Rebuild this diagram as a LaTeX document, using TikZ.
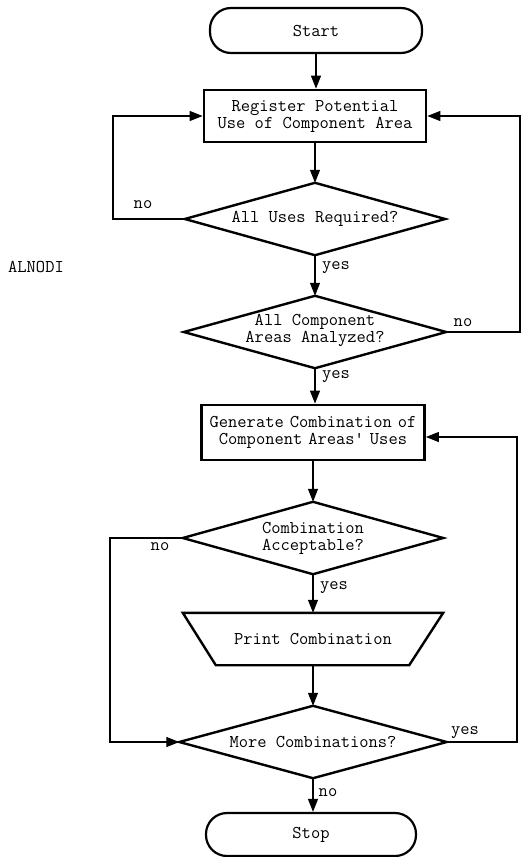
\documentclass[tikz,border=0pt]{standalone}
\usetikzlibrary{arrows.meta}
\begin{document}
\begin{tikzpicture}[x=1pt,y=-1pt,
  font=\ttfamily\fontsize{18}{17}\selectfont,
  term/.style={draw,line width=2.2pt,rounded corners=21pt,minimum height=44pt,inner sep=0pt},
  procbox/.style={draw,line width=2.8pt,inner sep=0pt,align=center},
  dec/.style={inner sep=0pt,align=center},
  decline/.style={line width=2.4pt,line join=miter},
  conn/.style={line width=1.2pt,-{Triangle[length=13pt,width=10pt]}},
  lbl/.style={inner sep=0pt}]
\useasboundingbox (0,0) rectangle (523,857);
% nodes
\node[term, minimum width=212pt, minimum height=45pt] (start) at (316,30.5) {Start};
\node[procbox, minimum width=222pt, minimum height=52pt] (reg) at (315,116) {Register Potential\\Use of Component Area};
\node[dec, minimum width=260pt, minimum height=72pt] (d1) at (315,219) {All Uses Required?};
\node[dec, minimum width=262pt, minimum height=72pt] (d2) at (315,332) {};
\node[dec] (d2t) at (315,330) {All Component\\Areas Analyzed?};
\node[procbox, text width=223pt, minimum height=55pt] (gen) at (313,432.5) {Generate Combination of\\Component Areas' Uses};
\node[dec, minimum width=260pt, minimum height=72pt] (d3) at (313,538) {Combination\\Acceptable?};
\node[dec, minimum width=260pt, minimum height=52pt] (pr) at (313,639) {Print Combination};
\node[dec, minimum width=267pt, minimum height=72pt] (d4) at (313,742) {More Combinations?};
\node[term, minimum width=210pt, minimum height=43pt] (stop) at (311,834.5) {Stop};
\node[lbl] (alnodi) at (36,267) {ALNODI};
% shapes
\foreach \d in {d1,d2,d3,d4}
  \draw[decline] (\d.north) -- (\d.east) -- (\d.south) -- (\d.west) -- cycle;
\draw[decline] (pr.north west) -- (pr.north east) -- ([xshift=-34pt]pr.south east) -- ([xshift=33pt]pr.south west) -- cycle;
% coordinates for loops
\coordinate (L1) at (113,116);
\coordinate (R1) at (520,116);
\coordinate (R2) at (517,437);
\coordinate (L2) at (110,742);
% connectors
\draw[conn] (start.south) -- (start.south |- reg.north);
\draw[conn] (reg.south) -- (reg.south |- d1.north);
\draw[conn] (d1.south) -- (d1.south |- d2.north);
\draw[conn] (d2.south) -- (d2.south |- gen.north);
\draw[conn] (gen.south) -- (gen.south |- d3.north);
\draw[conn] (d3.south) -- (d3.south |- pr.north);
\draw[conn] (pr.south) -- (pr.south |- d4.north);
\draw[conn] (d4.south) -- (d4.south |- stop.north);
\draw[conn] (d1.west) -| (L1) -- (reg.west);
\draw[conn] (d2.east) -| (R1) -- (reg.east);
\draw[conn] (d4.east) -| (R2) -- (R2 -| gen.east);
\draw[conn] (d3.west) -| (L2) -- (d4.west);
% labels
\node[lbl] (no1) at (143,205) {no};
\node[lbl] (yes1) at (336,268) {yes};
\node[lbl] (no2) at (463,323) {no};
\node[lbl] (yes2) at (336,377) {yes};
\node[lbl] (no3) at (160,547) {no};
\node[lbl] (yes3) at (334,588) {yes};
\node[lbl] (yes4) at (465,733) {yes};
\node[lbl] (no4) at (328,793) {no};
\end{tikzpicture}
\end{document}
